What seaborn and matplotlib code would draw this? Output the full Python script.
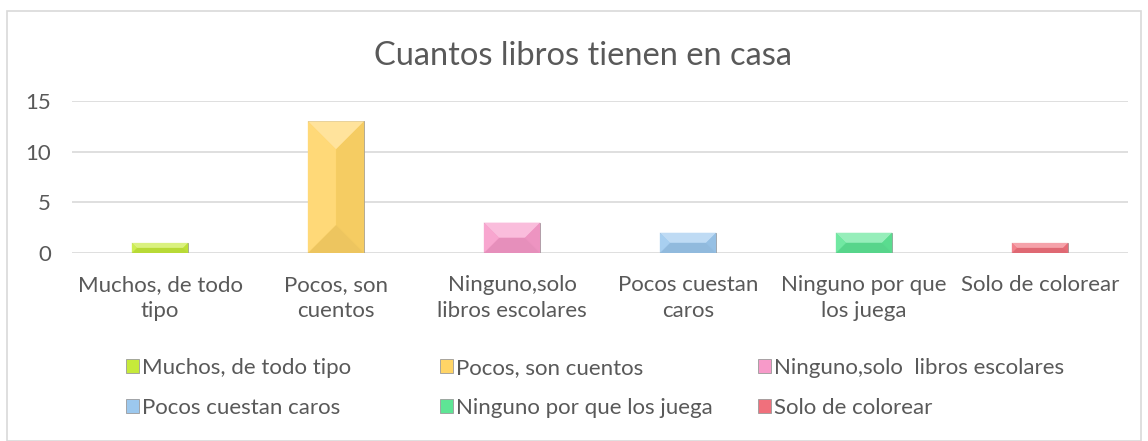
import numpy as np
import matplotlib.pyplot as plt
import matplotlib.patches as mpatches
import matplotlib.colors as mcolors
import seaborn as sns
import pandas as pd

# datos
categorias = ["Muchos, de todo tipo", "Pocos, son cuentos", "Ninguno,solo  libros escolares",
              "Pocos cuestan caros", "Ninguno por que los juega", "Solo de colorear"]
etiquetas = ["Muchos, de todo\ntipo", "Pocos, son\ncuentos", "Ninguno,solo\nlibros escolares",
             "Pocos cuestan\ncaros", "Ninguno por que\nlos juega", "Solo de colorear"]
valores = [1, 13, 3, 2, 2, 1]
colores = ["#C6EA3A", "#FFD466", "#F79AC9", "#9CC8EE", "#5EE595", "#F0707C"]

sns.set_style("white")
plt.rcParams['font.family'] = ['Lato', 'DejaVu Sans']
gris = "#595959"

W, H = 1148, 441
fig = plt.figure(figsize=(W / 100, H / 100), dpi=100)

# borde del area del grafico
fig.patches.append(mpatches.Rectangle((7 / W, 0), (1141 - 7) / W, (H - 11) / H,
                                      transform=fig.transFigure, fill=False,
                                      edgecolor="#D9D9D9", linewidth=1.2))

ax = fig.add_axes([72 / W, (H - 253) / H, (1128 - 72) / W, 152 / H])

df = pd.DataFrame({"cat": categorias, "val": valores})
sns.barplot(data=df, x="cat", y="val", hue="cat", palette=colores, width=0.32,
            saturation=1, edgecolor="#9a9a9a", linewidth=0.6, legend=True, ax=ax)

ax.set_ylim(0, 15)
ax.set_yticks([0, 5, 10, 15])
ax.yaxis.grid(True, color="#D9D9D9", linewidth=1.2)
ax.set_axisbelow(True)
for s in ax.spines.values():
    s.set_visible(False)
ax.set_xlabel("")
ax.set_ylabel("")
ax.set_xticks(range(len(etiquetas)))
ax.set_xticklabels(etiquetas, fontsize=16, color=gris, linespacing=1.38)
ax.tick_params(axis="y", labelsize=16, labelcolor=gris, length=0, pad=15)
ax.tick_params(axis="x", length=0, pad=16)

ax.set_title("Cuantos libros tienen en casa", fontsize=23.5, color=gris, pad=26,
             x=(583 - 72) / 1056)

# efecto de bisel sobre cada barra (a partir de la geometria de las barras)
fig.canvas.draw()
def mezcla(c, otro, t):
    a = np.array(mcolors.to_rgb(c))
    b = np.array(mcolors.to_rgb(otro))
    return tuple(a * (1 - t) + b * t)

for p in list(ax.patches):
    if p.get_height() <= 0:
        continue
    bb = p.get_window_extent()
    x0, y0, x1, y1 = bb.x0, bb.y0, bb.x1, bb.y1
    d = min((x1 - x0) / 2, (y1 - y0) / 2, 28)
    c = p.get_facecolor()
    inv = ax.transData.inverted()
    def poly(pts, col):
        dp = inv.transform(pts)
        ax.add_patch(mpatches.Polygon(dp, closed=True, facecolor=col,
                                      edgecolor="none", zorder=p.get_zorder() + 0.1))
    poly([(x0, y1), (x1, y1), (x1 - d, y1 - d), (x0 + d, y1 - d)], mezcla(c, "white", 0.35))
    poly([(x1, y1), (x1, y0), (x1 - d, y0 + d), (x1 - d, y1 - d)], mezcla(c, "black", 0.04))
    poly([(x0, y0), (x1, y0), (x1 - d, y0 + d), (x0 + d, y0 + d)], mezcla(c, "black", 0.07))
    poly([(x0, y1), (x0, y0), (x0 + d, y0 + d), (x0 + d, y1 - d)], mezcla(c, "white", 0.12))

# leyenda en tres columnas, orden por filas
handles, labels = ax.get_legend_handles_labels()
ax.get_legend().remove()
columnas = [[0, 3], [1, 4], [2, 5]]
xs = [126, 440, 758]
for idx, xcol in zip(columnas, xs):
    fig.legend([handles[i] for i in idx], [labels[i] for i in idx], ncol=1,
               loc="center left", bbox_to_anchor=(xcol / W, 1 - 388 / H), frameon=False,
               fontsize=16, labelcolor=gris, handlelength=0.6, handleheight=0.6,
               handletextpad=0.1, labelspacing=0.9, borderpad=0, borderaxespad=0)

fig.savefig("out.png", dpi=100)
